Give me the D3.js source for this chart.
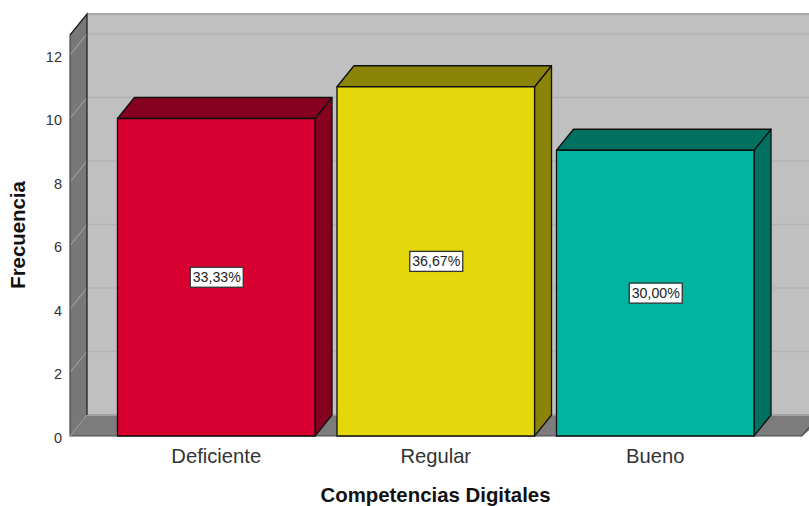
<!DOCTYPE html>
<html><head><meta charset="utf-8">
<script src="https://cdn.jsdelivr.net/npm/d3@7"></script>
<style>html,body{margin:0;padding:0;background:#fff;overflow:hidden}svg{display:block}text{font-family:"Liberation Sans",Arial,sans-serif}</style>
</head><body><div id="chart"></div>
<script>
const categories = ["Deficiente", "Regular", "Bueno"];
const counts = [10, 11, 9];
const percentLabels = ["33,33%", "36,67%", "30,00%"];
const barColors = ["#d70030", "#e4d80c", "#00b4a0"];
const topColors = ["#860020", "#8c8408", "#007060"];
const sideColors = ["#860020", "#8c8408", "#007060"];
const yTicks = [0, 2, 4, 6, 8, 10, 12];
const xTitle = "Competencias Digitales";
const yTitle = "Frecuencia";

const W = 809, H = 506;
const depth = { x: 17, y: -21 };
const frontLeft = 70, frontRight = 802, baseY = 436, topY = 35;

const y = d3.scaleLinear().domain([0, 12.63]).range([baseY, topY]);
const x = d3.scaleBand().domain(categories).range([106.5, 765]).paddingInner(0.1).paddingOuter(0.05);

const svg = d3.select("#chart").append("svg").attr("width", W).attr("height", H);
const poly = (pts, fill, stroke = "#111", sw = 1.3) => svg.append("polygon")
  .attr("points", pts.map(p => p.join(",")).join(" "))
  .attr("fill", fill).attr("stroke", stroke).attr("stroke-width", sw).attr("stroke-linejoin", "round");

// Back wall, left wall and floor of the 3D box
const dx = depth.x, dy = depth.y;
poly([[frontLeft + dx, topY + dy], [W + 20, topY + dy], [W + 20, baseY + dy], [frontLeft + dx, baseY + dy]], "#c0c0c0", "none");
svg.append("line").attr("x1", frontLeft + dx).attr("x2", W).attr("y1", topY + dy).attr("y2", topY + dy).attr("stroke", "#222").attr("stroke-width", 1.2);
poly([[frontLeft, topY], [frontLeft + dx, topY + dy], [frontLeft + dx, baseY + dy], [frontLeft, baseY]], "#787878", "none");
poly([[frontLeft, baseY], [frontLeft + dx, baseY + dy], [W + 20, baseY + dy], [frontRight, baseY]], "#7c7c7c", "none");

// Gridlines on both walls, including the band above 12
const gridValues = [...yTicks.slice(1), 12.63];
svg.append("g").selectAll("line.back").data(gridValues).join("line")
  .attr("x1", frontLeft + dx).attr("x2", W)
  .attr("y1", d => y(d) + dy).attr("y2", d => y(d) + dy)
  .attr("stroke", "#b4b4b4").attr("stroke-width", 1.4);
svg.append("g").selectAll("line.side").data(yTicks.slice(1)).join("line")
  .attr("x1", frontLeft).attr("x2", frontLeft + dx)
  .attr("y1", d => y(d)).attr("y2", d => y(d) + dy)
  .attr("stroke", "#a8a8a8").attr("stroke-width", 1);

// Soft lip where the back wall meets the floor
svg.append("line").attr("x1", frontLeft + dx).attr("x2", W)
  .attr("y1", baseY + dy).attr("y2", baseY + dy).attr("stroke", "#a2a2a2").attr("stroke-width", 2);

// Box edges
svg.append("path").attr("fill", "none").attr("stroke", "#1a1a1a").attr("stroke-width", 1.2)
  .attr("d", `M${frontLeft + dx},${baseY + dy}V${topY + dy}L${frontLeft},${topY}`);
svg.append("path").attr("fill", "none").attr("stroke", "#4a4a4a").attr("stroke-width", 1.2)
  .attr("d", `M${frontLeft},${topY}V${baseY}H${frontRight}L${W + 20},${baseY - (W + 20 - frontRight) * 21 / 17}`);
svg.append("line").attr("x1", frontLeft).attr("y1", baseY).attr("x2", frontLeft + dx).attr("y2", baseY + dy)
  .attr("stroke", "#9a9a9a").attr("stroke-width", 1);

// Bars with their top and side faces
categories.forEach((c, i) => {
  const l = x(c), r = l + x.bandwidth(), t = y(counts[i]);
  poly([[r, t], [r + dx, t + dy], [r + dx, baseY + dy], [r, baseY]], sideColors[i]);
  poly([[l, t], [l + dx, t + dy], [r + dx, t + dy], [r, t]], topColors[i]);
  poly([[l, t], [r, t], [r, baseY], [l, baseY]], barColors[i]);
});

// Percentage tags at mid-height of each bar
categories.forEach((c, i) => {
  const cx = x(c) + x.bandwidth() / 2 + 0.5, cy = y(counts[i] / 2);
  svg.append("rect").attr("x", cx - 26.5).attr("y", cy - 10).attr("width", 53).attr("height", 20)
    .attr("fill", "#fff").attr("stroke", "#333").attr("stroke-width", 1.3);
  svg.append("text").attr("x", cx).attr("y", cy + 5).attr("text-anchor", "middle")
    .attr("font-size", 14).attr("fill", "#222").attr("textLength", 48).attr("lengthAdjust", "spacingAndGlyphs")
    .text(percentLabels[i]);
});

// Value axis labels
svg.append("g").selectAll("text").data(yTicks).join("text")
  .attr("x", 62).attr("y", d => y(d) + 6.5).attr("text-anchor", "end")
  .attr("font-size", 14.5).attr("fill", "#333").text(d => d);

// Category labels
svg.append("g").selectAll("text").data(categories).join("text")
  .attr("x", d => x(d) + x.bandwidth() / 2).attr("y", 463).attr("text-anchor", "middle")
  .attr("font-size", 20.2).attr("fill", "#333").text(d => d);

// Axis titles
svg.append("text").attr("x", 435.5).attr("y", 501.5).attr("text-anchor", "middle")
  .attr("font-size", 20.4).attr("font-weight", "bold").attr("fill", "#111").text(xTitle);
svg.append("text").attr("transform", "translate(25,235) rotate(-90)").attr("text-anchor", "middle")
  .attr("font-size", 20.4).attr("font-weight", "bold").attr("fill", "#111").text(yTitle);
</script></body></html>
